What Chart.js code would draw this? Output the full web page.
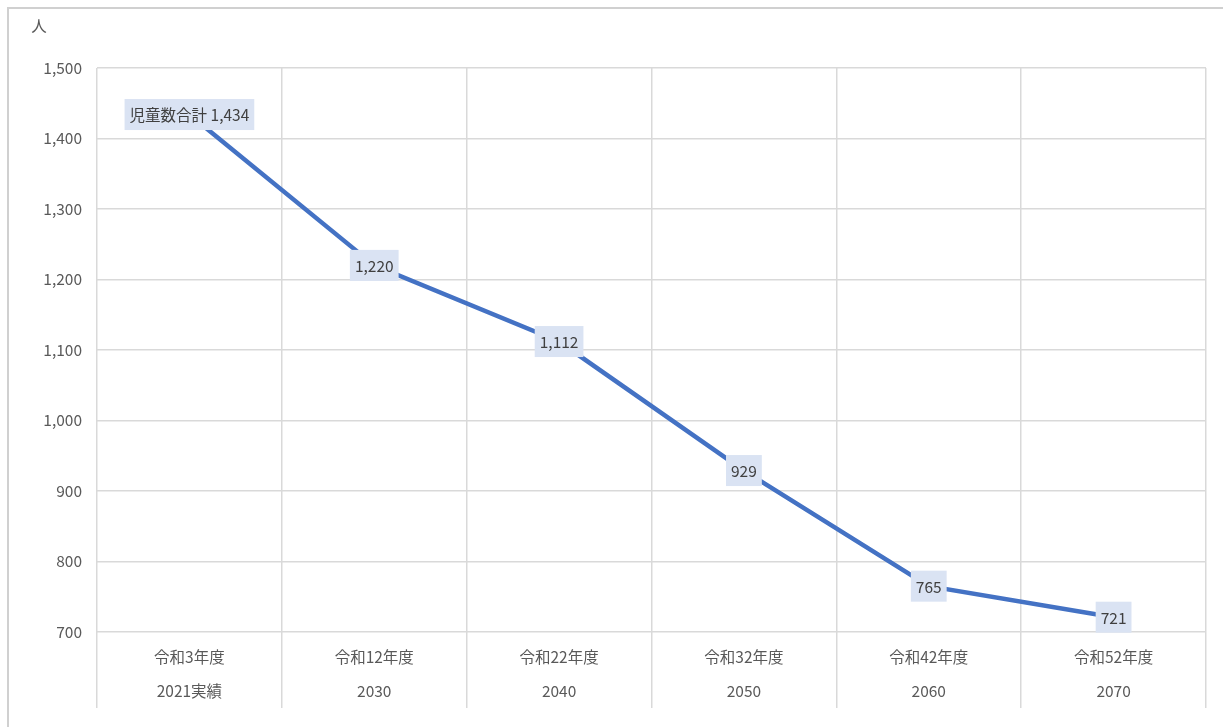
<!DOCTYPE html>
<html>
<head>
<meta charset="utf-8">
<script src="https://cdn.jsdelivr.net/npm/chart.js@4/dist/chart.umd.min.js"></script>
<style>
  html, body { margin: 0; padding: 0; background: #ffffff; }
  #wrap { position: relative; width: 1223px; height: 727px; overflow: hidden; }
  #frame { position: absolute; left: 7px; top: 7px; width: 1300px; height: 800px;
           border-left: 2px solid #d0d0d0; border-top: 2px solid #d0d0d0; pointer-events: none; }
  canvas { position: absolute; left: 0; top: 0; }
</style>
</head>
<body>
<div id="wrap">
  <canvas id="c" width="1223" height="727"></canvas>
  <div id="frame"></div>
</div>
<script>
const categories = [
  ['令和3年度', '2021実績'],
  ['令和12年度', '2030'],
  ['令和22年度', '2040'],
  ['令和32年度', '2050'],
  ['令和42年度', '2060'],
  ['令和52年度', '2070']
];
const childrenTotal = [1434, 1220, 1112, 929, 765, 721];
const seriesName = '児童数合計';
const yMin = 700, yMax = 1500, yStep = 100;
const unitLabel = '人';

const FONT = '"Noto Sans CJK JP", "Noto Sans", sans-serif';
const fmt = v => Number(v).toLocaleString('en-US');

const labelPlugin = {
  id: 'boxLabels',
  afterDatasetsDraw(chart) {
    const ctx = chart.ctx;
    const meta = chart.getDatasetMeta(0);
    ctx.save();
    ctx.font = '15.5px ' + FONT;
    ctx.textAlign = 'center';
    ctx.textBaseline = 'middle';
    meta.data.forEach((pt, i) => {
      const v = chart.data.datasets[0].data[i];
      const txt = (i === 0 ? seriesName + ' ' : '') + fmt(v);
      const w = ctx.measureText(txt).width + 10;
      const h = 31;
      ctx.fillStyle = '#dae3f3';
      ctx.fillRect(pt.x - w / 2, pt.y - h / 2, w, h);
      ctx.fillStyle = '#404040';
      ctx.fillText(txt, pt.x, pt.y + 1);
    });
    ctx.restore();
  },
  afterDraw(chart) {
    const ctx = chart.ctx;
    ctx.save();
    ctx.font = '15.5px ' + FONT;
    ctx.fillStyle = '#595959';
    ctx.textAlign = 'center';
    ctx.textBaseline = 'middle';
    ctx.fillText(unitLabel, 39, 26);
    ctx.restore();
  }
};

new Chart(document.getElementById('c'), {
  type: 'line',
  data: {
    labels: categories,
    datasets: [{
      label: seriesName,
      data: childrenTotal,
      borderColor: '#4472c4',
      borderWidth: 4.5,
      pointRadius: 0,
      tension: 0,
      fill: false
    }]
  },
  options: {
    responsive: false,
    animation: false,
    devicePixelRatio: 1,
    layout: { padding: { top: 68, right: 17, left: 0, bottom: 0 } },
    plugins: { legend: { display: false }, tooltip: { enabled: false } },
    scales: {
      x: {
        type: 'category',
        offset: true,
        grid: { offset: true, color: '#d9d9d9', lineWidth: 1.5, drawTicks: true, tickLength: 76, tickColor: '#d9d9d9' },
        border: { display: false },
        ticks: {
          padding: -68,
          maxRotation: 0,
          autoSkip: false,
          color: '#595959',
          font: { family: FONT, size: 15.5, lineHeight: 34 / 15.5 }
        },
        afterFit(scale) { scale.height = 95; }
      },
      y: {
        min: yMin,
        max: yMax,
        grid: { color: '#d9d9d9', lineWidth: 1.5, drawTicks: false },
        border: { display: false },
        ticks: {
          stepSize: yStep,
          padding: 15,
          color: '#595959',
          font: { family: FONT, size: 15.5 },
          callback: v => fmt(v)
        },
        afterFit(scale) { scale.width = 97; }
      }
    }
  },
  plugins: [labelPlugin]
});
</script>
</body>
</html>
